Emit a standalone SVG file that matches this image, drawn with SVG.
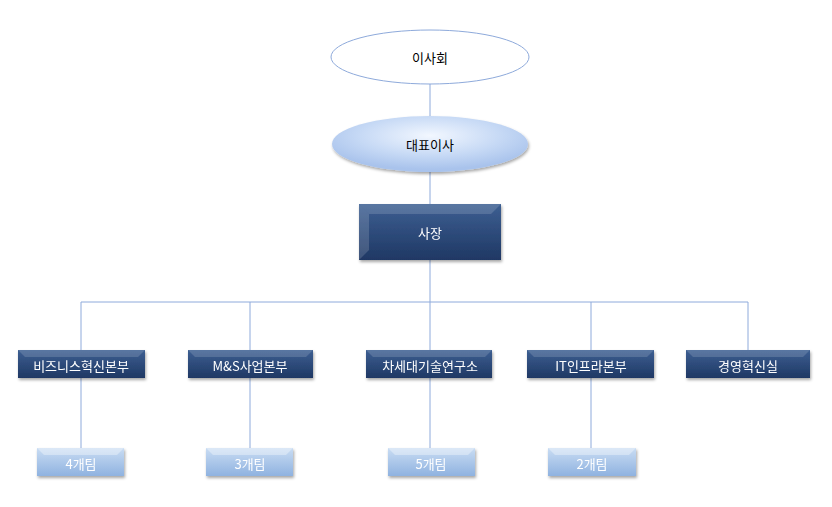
<svg xmlns="http://www.w3.org/2000/svg" width="832" height="507" viewBox="0 0 832 507">
<defs>
<linearGradient id="dk" x1="0" y1="0" x2="0" y2="1"><stop offset="0" stop-color="#3d5f92"/><stop offset="1" stop-color="#1f3864"/></linearGradient>
<linearGradient id="lt" x1="0" y1="0" x2="0" y2="1"><stop offset="0" stop-color="#c9dcf3"/><stop offset="1" stop-color="#8fb2e0"/></linearGradient>
<radialGradient id="el" cx="0.5" cy="0.35" r="0.6"><stop offset="0" stop-color="#f2f7ff"/><stop offset="0.6" stop-color="#c6d9f5"/><stop offset="1" stop-color="#a9c3ec"/></radialGradient>
<filter id="sh" x="-10%" y="-20%" width="130%" height="150%"><feDropShadow dx="1" dy="2" stdDeviation="1.5" flood-color="#000" flood-opacity="0.35"/></filter>
</defs>
<style>
.ln{stroke:#8eaadb;stroke-width:1;fill:none}
.t{font-family:"Noto Sans CJK KR","Liberation Sans",sans-serif;font-size:13px;text-anchor:middle;dominant-baseline:central}
.w{fill:#fff}
.b{fill:#000}
.bevd{fill:#fff;opacity:0.15}
.bevl{fill:#fff;opacity:0.35}
</style>
<g id="connectors">
<line class="ln" x1="430" y1="84" x2="430" y2="116"/>
<line class="ln" x1="430" y1="172" x2="430" y2="204"/>
<line class="ln" x1="430" y1="260" x2="430" y2="350"/>
<line class="ln" x1="81" y1="302" x2="748" y2="302"/>
<line class="ln" x1="81" y1="302" x2="81" y2="448"/>
<line class="ln" x1="250" y1="302" x2="250" y2="448"/>
<line class="ln" x1="430" y1="378" x2="430" y2="448"/>
<line class="ln" x1="591" y1="302" x2="591" y2="448"/>
<line class="ln" x1="748" y1="302" x2="748" y2="350"/>
</g>
<g id="board"><ellipse cx="430" cy="57" rx="99" ry="27" fill="#fff" stroke="#8eaadb"/><text class="t b" x="430" y="57" font-size="15">이사회</text></g>
<g id="ceo"><ellipse cx="430" cy="144" rx="98" ry="28" fill="url(#el)" filter="url(#sh)"/><text class="t b" x="430" y="144" font-size="15">대표이사</text></g>
<g id="president" filter="url(#sh)"><rect x="359" y="204" width="142" height="56" fill="url(#dk)"/><polygon class="bevd" points="359,204 501,204 491,214 369,214"/><polygon class="bevd" points="359,204 369,214 369,250 359,260"/><text class="t w" x="430" y="232" font-size="15">사장</text></g>
<g id="d1" filter="url(#sh)"><rect x="18" y="350" width="127" height="28" fill="url(#dk)"/><polygon class="bevd" points="18,350 145,350 138,357 25,357"/><text class="t w" x="81" y="365">비즈니스혁신본부</text></g>
<g id="d2" filter="url(#sh)"><rect x="188" y="350" width="125" height="28" fill="url(#dk)"/><polygon class="bevd" points="188,350 313,350 306,357 195,357"/><text class="t w" x="250" y="365">M&amp;S사업본부</text></g>
<g id="d3" filter="url(#sh)"><rect x="366" y="350" width="126" height="28" fill="url(#dk)"/><polygon class="bevd" points="366,350 492,350 485,357 373,357"/><text class="t w" x="430" y="365">차세대기술연구소</text></g>
<g id="d4" filter="url(#sh)"><rect x="527" y="350" width="127" height="28" fill="url(#dk)"/><polygon class="bevd" points="527,350 654,350 647,357 534,357"/><text class="t w" x="591" y="365">IT인프라본부</text></g>
<g id="d5" filter="url(#sh)"><rect x="686" y="350" width="124" height="28" fill="url(#dk)"/><polygon class="bevd" points="686,350 810,350 803,357 693,357"/><text class="t w" x="748" y="365">경영혁신실</text></g>
<g id="t1" filter="url(#sh)"><rect x="37" y="448" width="87" height="28" fill="url(#lt)"/><polygon class="bevl" points="37,448 124,448 117,455 44,455"/><text class="t w" x="81" y="463">4개팀</text></g>
<g id="t2" filter="url(#sh)"><rect x="206" y="448" width="87" height="28" fill="url(#lt)"/><polygon class="bevl" points="206,448 293,448 286,455 213,455"/><text class="t w" x="250" y="463">3개팀</text></g>
<g id="t3" filter="url(#sh)"><rect x="388" y="448" width="87" height="28" fill="url(#lt)"/><polygon class="bevl" points="388,448 475,448 468,455 395,455"/><text class="t w" x="431" y="463">5개팀</text></g>
<g id="t4" filter="url(#sh)"><rect x="548" y="448" width="88" height="28" fill="url(#lt)"/><polygon class="bevl" points="548,448 636,448 629,455 555,455"/><text class="t w" x="592" y="463">2개팀</text></g>
</svg>
